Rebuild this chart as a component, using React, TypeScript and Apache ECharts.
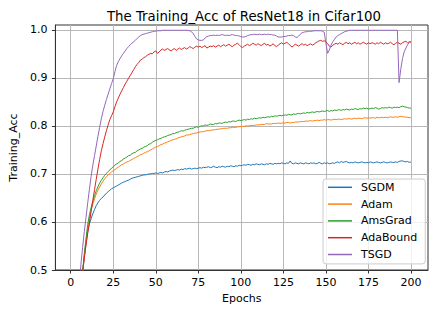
import React, { useEffect, useRef } from "react";
import * as echarts from "echarts";

const seriesNames = ["SGDM", "Adam", "AmsGrad", "AdaBound", "TSGD"];
const colors = ["#1f77b4", "#ff7f0e", "#2ca02c", "#d62728", "#9467bd"];
const xTicks = [0, 25, 50, 75, 100, 125, 150, 175, 200];
const yTicks = [0.5, 0.6, 0.7, 0.8, 0.9, 1.0];
const epochs = Array.from({ length: 200 }, (_, i) => i + 1);

const sgdm = [
  0.060, 0.180, 0.280, 0.350, 0.410, 0.460, 0.495, 0.527, 0.555, 0.579,
  0.596, 0.607, 0.617, 0.626, 0.634, 0.640, 0.645, 0.649, 0.652, 0.656,
  0.660, 0.663, 0.666, 0.669, 0.671, 0.673, 0.675, 0.677, 0.679, 0.681,
  0.683, 0.684, 0.686, 0.687, 0.689, 0.691, 0.692, 0.693, 0.694, 0.695,
  0.696, 0.697, 0.698, 0.698, 0.699, 0.700, 0.700, 0.701, 0.701, 0.702,
  0.701, 0.702, 0.703, 0.702, 0.704, 0.705, 0.704, 0.706, 0.707, 0.708,
  0.707, 0.708, 0.709, 0.708, 0.710, 0.709, 0.711, 0.710, 0.711, 0.712,
  0.710, 0.711, 0.712, 0.711, 0.712, 0.713, 0.712, 0.714, 0.713, 0.714,
  0.715, 0.713, 0.714, 0.716, 0.714, 0.713, 0.715, 0.714, 0.716, 0.715,
  0.714, 0.716, 0.715, 0.717, 0.716, 0.715, 0.717, 0.716, 0.718, 0.717,
  0.718, 0.719, 0.718, 0.720, 0.719, 0.718, 0.720, 0.719, 0.721, 0.720,
  0.719, 0.721, 0.720, 0.719, 0.721, 0.720, 0.722, 0.721, 0.720, 0.722,
  0.721, 0.722, 0.721, 0.723, 0.722, 0.721, 0.723, 0.722, 0.727, 0.722,
  0.721, 0.723, 0.722, 0.721, 0.723, 0.722, 0.721, 0.723, 0.722, 0.721,
  0.723, 0.722, 0.723, 0.721, 0.722, 0.724, 0.722, 0.721, 0.723, 0.722,
  0.723, 0.721, 0.722, 0.723, 0.722, 0.724, 0.725, 0.723, 0.726, 0.724,
  0.725, 0.726, 0.724, 0.723, 0.724, 0.723, 0.725, 0.724, 0.723, 0.724,
  0.725, 0.724, 0.723, 0.724, 0.723, 0.725, 0.724, 0.723, 0.724, 0.725,
  0.724, 0.723, 0.724, 0.725, 0.724, 0.723, 0.724, 0.725, 0.724, 0.724,
  0.725, 0.724, 0.726, 0.727, 0.727, 0.726, 0.725, 0.726, 0.724, 0.725,
];

const adam = [
  0.070, 0.190, 0.290, 0.360, 0.420, 0.465, 0.495, 0.530, 0.560, 0.588,
  0.608, 0.624, 0.637, 0.648, 0.658, 0.666, 0.673, 0.679, 0.685, 0.690,
  0.694, 0.698, 0.701, 0.704, 0.707, 0.709, 0.712, 0.714, 0.717, 0.719,
  0.721, 0.723, 0.725, 0.726, 0.728, 0.730, 0.732, 0.734, 0.736, 0.738,
  0.740, 0.741, 0.743, 0.745, 0.746, 0.748, 0.750, 0.752, 0.754, 0.756,
  0.757, 0.759, 0.761, 0.762, 0.764, 0.765, 0.767, 0.768, 0.770, 0.771,
  0.772, 0.773, 0.775, 0.776, 0.777, 0.778, 0.779, 0.781, 0.781, 0.782,
  0.783, 0.784, 0.785, 0.785, 0.787, 0.787, 0.788, 0.788, 0.789, 0.790,
  0.790, 0.791, 0.791, 0.792, 0.792, 0.793, 0.793, 0.794, 0.794, 0.795,
  0.795, 0.795, 0.796, 0.796, 0.797, 0.797, 0.797, 0.798, 0.798, 0.799,
  0.799, 0.799, 0.800, 0.800, 0.800, 0.801, 0.801, 0.801, 0.802, 0.802,
  0.802, 0.803, 0.803, 0.803, 0.805, 0.804, 0.804, 0.804, 0.805, 0.805,
  0.805, 0.806, 0.805, 0.806, 0.806, 0.806, 0.807, 0.807, 0.806, 0.807,
  0.807, 0.808, 0.808, 0.808, 0.809, 0.809, 0.809, 0.810, 0.810, 0.810,
  0.811, 0.810, 0.811, 0.811, 0.812, 0.811, 0.812, 0.812, 0.813, 0.812,
  0.813, 0.813, 0.812, 0.813, 0.814, 0.813, 0.814, 0.814, 0.813, 0.814,
  0.815, 0.814, 0.815, 0.815, 0.814, 0.815, 0.816, 0.815, 0.816, 0.816,
  0.815, 0.816, 0.817, 0.816, 0.817, 0.816, 0.817, 0.817, 0.816, 0.818,
  0.817, 0.817, 0.818, 0.817, 0.818, 0.817, 0.818, 0.819, 0.818, 0.818,
  0.819, 0.818, 0.819, 0.820, 0.819, 0.819, 0.818, 0.818, 0.817, 0.817,
];

const amsgrad = [
  0.080, 0.200, 0.300, 0.370, 0.430, 0.470, 0.497, 0.535, 0.565, 0.595,
  0.615, 0.630, 0.643, 0.655, 0.665, 0.673, 0.681, 0.687, 0.692, 0.697,
  0.701, 0.705, 0.708, 0.712, 0.715, 0.718, 0.721, 0.723, 0.726, 0.728,
  0.731, 0.733, 0.735, 0.738, 0.739, 0.742, 0.744, 0.745, 0.748, 0.750,
  0.752, 0.753, 0.756, 0.757, 0.759, 0.762, 0.763, 0.766, 0.768, 0.770,
  0.771, 0.773, 0.774, 0.776, 0.777, 0.778, 0.780, 0.781, 0.782, 0.784,
  0.784, 0.786, 0.787, 0.788, 0.790, 0.789, 0.791, 0.792, 0.793, 0.794,
  0.795, 0.795, 0.797, 0.798, 0.797, 0.799, 0.800, 0.800, 0.802, 0.801,
  0.802, 0.804, 0.803, 0.803, 0.805, 0.804, 0.806, 0.806, 0.805, 0.807,
  0.808, 0.807, 0.809, 0.808, 0.810, 0.810, 0.809, 0.811, 0.812, 0.811,
  0.812, 0.813, 0.812, 0.814, 0.813, 0.815, 0.814, 0.816, 0.815, 0.816,
  0.817, 0.816, 0.818, 0.817, 0.818, 0.819, 0.818, 0.820, 0.819, 0.821,
  0.820, 0.821, 0.822, 0.821, 0.822, 0.823, 0.822, 0.824, 0.823, 0.823,
  0.825, 0.824, 0.825, 0.826, 0.825, 0.826, 0.827, 0.826, 0.828, 0.827,
  0.828, 0.829, 0.828, 0.829, 0.830, 0.829, 0.830, 0.831, 0.830, 0.831,
  0.832, 0.830, 0.832, 0.831, 0.833, 0.832, 0.833, 0.834, 0.832, 0.834,
  0.833, 0.835, 0.834, 0.833, 0.835, 0.834, 0.836, 0.835, 0.834, 0.836,
  0.835, 0.837, 0.836, 0.837, 0.835, 0.836, 0.837, 0.836, 0.838, 0.837,
  0.835, 0.836, 0.838, 0.837, 0.838, 0.837, 0.839, 0.838, 0.837, 0.839,
  0.838, 0.839, 0.838, 0.840, 0.841, 0.840, 0.839, 0.838, 0.837, 0.837,
];

const adabound = [
  0.080, 0.200, 0.290, 0.360, 0.420, 0.465, 0.497, 0.525, 0.552, 0.577,
  0.598, 0.622, 0.645, 0.667, 0.689, 0.710, 0.730, 0.748, 0.763, 0.777,
  0.790, 0.802, 0.813, 0.821, 0.829, 0.840, 0.850, 0.858, 0.866, 0.873,
  0.880, 0.887, 0.893, 0.899, 0.905, 0.911, 0.917, 0.923, 0.928, 0.932,
  0.937, 0.939, 0.942, 0.944, 0.947, 0.949, 0.951, 0.950, 0.954, 0.956,
  0.951, 0.954, 0.958, 0.960, 0.957, 0.959, 0.961, 0.958, 0.956, 0.959,
  0.961, 0.957, 0.960, 0.962, 0.959, 0.961, 0.963, 0.960, 0.962, 0.965,
  0.963, 0.961, 0.964, 0.966, 0.964, 0.966, 0.963, 0.965, 0.967, 0.962,
  0.964, 0.966, 0.965, 0.967, 0.964, 0.966, 0.968, 0.965, 0.967, 0.969,
  0.966, 0.968, 0.970, 0.967, 0.965, 0.968, 0.970, 0.972, 0.969, 0.965,
  0.963, 0.966, 0.968, 0.970, 0.967, 0.969, 0.972, 0.970, 0.968, 0.971,
  0.969, 0.967, 0.970, 0.972, 0.968, 0.970, 0.966, 0.968, 0.971, 0.967,
  0.965, 0.968, 0.971, 0.973, 0.970, 0.972, 0.974, 0.971, 0.968, 0.964,
  0.967, 0.970, 0.968, 0.966, 0.969, 0.971, 0.968, 0.970, 0.967, 0.969,
  0.971, 0.968, 0.970, 0.973, 0.975, 0.977, 0.978, 0.976, 0.977, 0.975,
  0.971, 0.966, 0.964, 0.968, 0.970, 0.972, 0.970, 0.973, 0.971, 0.969,
  0.972, 0.974, 0.971, 0.973, 0.970, 0.972, 0.974, 0.971, 0.973, 0.970,
  0.972, 0.974, 0.972, 0.970, 0.973, 0.971, 0.973, 0.972, 0.970, 0.973,
  0.971, 0.974, 0.972, 0.970, 0.973, 0.971, 0.972, 0.974, 0.971, 0.969,
  0.972, 0.974, 0.972, 0.970, 0.973, 0.975, 0.976, 0.973, 0.975, 0.974,
];

const tsgd = [
  0.120, 0.250, 0.340, 0.410, 0.465, 0.512, 0.547, 0.580, 0.610, 0.640,
  0.668, 0.695, 0.718, 0.738, 0.758, 0.778, 0.797, 0.815, 0.830, 0.843,
  0.855, 0.866, 0.877, 0.888, 0.898, 0.913, 0.926, 0.934, 0.940, 0.946,
  0.951, 0.956, 0.961, 0.965, 0.969, 0.972, 0.975, 0.978, 0.982, 0.985,
  0.988, 0.990, 0.991, 0.992, 0.993, 0.994, 0.995, 0.996, 0.997, 0.997,
  0.998, 0.998, 0.998, 0.999, 0.999, 0.999, 0.999, 0.999, 0.999, 0.999,
  0.999, 0.999, 0.999, 0.999, 0.999, 0.999, 0.999, 0.999, 0.999, 0.998,
  0.996, 0.992, 0.986, 0.981, 0.979, 0.978, 0.978, 0.979, 0.983, 0.986,
  0.987, 0.988, 0.988, 0.989, 0.988, 0.989, 0.988, 0.989, 0.990, 0.989,
  0.988, 0.989, 0.988, 0.989, 0.990, 0.989, 0.988, 0.988, 0.987, 0.986,
  0.985, 0.985, 0.986, 0.988, 0.989, 0.990, 0.990, 0.991, 0.990, 0.990,
  0.991, 0.990, 0.990, 0.991, 0.990, 0.991, 0.990, 0.990, 0.989, 0.989,
  0.987, 0.985, 0.985, 0.985, 0.986, 0.986, 0.987, 0.988, 0.988, 0.989,
  0.988, 0.985, 0.984, 0.987, 0.991, 0.994, 0.995, 0.996, 0.996, 0.997,
  0.997, 0.997, 0.998, 0.998, 0.998, 0.998, 0.998, 0.997, 0.995, 0.972,
  0.951, 0.958, 0.968, 0.975, 0.980, 0.985, 0.988, 0.990, 0.992, 0.994,
  0.996, 0.997, 0.998, 0.999, 0.999, 0.999, 0.999, 0.999, 0.999, 0.999,
  0.999, 0.999, 0.999, 0.999, 0.999, 0.999, 0.999, 0.999, 0.999, 0.999,
  0.999, 0.999, 0.999, 0.999, 0.999, 0.999, 0.999, 0.999, 0.999, 0.999,
  0.999, 0.999, 0.890, 0.918, 0.940, 0.954, 0.962, 0.969, 0.974, 0.976,
];

const allValues = [sgdm, adam, amsgrad, adabound, tsgd];
const FONT = "DejaVu Sans";

export default function App() {
  const ref = useRef<HTMLDivElement>(null);
  useEffect(() => {
    if (!ref.current) return;
    const chart = echarts.init(ref.current, undefined, { renderer: "svg" });
    chart.setOption({
      animation: false,
      backgroundColor: "#ffffff",
      title: {
        text: "The Training_Acc of ResNet18 in Cifar100",
        left: 239,
        top: 5,
        textAlign: "center",
        textStyle: { fontFamily: FONT, fontSize: 13.3, fontWeight: "normal", color: "#000" },
      },
      grid: {
        left: 50,
        top: 25,
        right: 8,
        bottom: 43,
        show: true,
        borderColor: "#333",
        borderWidth: 1,
        backgroundColor: "transparent",
      },
      legend: {
        orient: "vertical",
        left: 323,
        top: 179,
        data: seriesNames,
        icon: "rect",
        itemWidth: 24,
        itemHeight: 1.5,
        itemGap: 4.8,
        padding: [2.3, 8, 3.4, 5],
        backgroundColor: "rgba(255,255,255,0.8)",
        borderColor: "#cccccc",
        borderWidth: 1,
        borderRadius: 3,
        textStyle: { fontFamily: FONT, fontSize: 11, color: "#000", lineHeight: 12, padding: [0, 0, 0, 4] },
      },
      xAxis: {
        type: "value",
        min: -9,
        max: 210,
        name: "Epochs",
        nameLocation: "middle",
        nameGap: 21,
        nameTextStyle: { fontFamily: FONT, fontSize: 11, color: "#000", verticalAlign: "top" },
        axisLine: { show: true, onZero: false, lineStyle: { color: "#333", width: 1 } },
        axisTick: { show: true, length: 3.5, lineStyle: { color: "#333" }, customValues: xTicks },
        axisLabel: {
          fontFamily: FONT,
          fontSize: 11,
          color: "#000",
          margin: 7,
          customValues: xTicks,
          formatter: (v: number) => String(v),
        },
        splitLine: { show: true, lineStyle: { color: "#b8b8b8", width: 1 } },
      },
      yAxis: {
        type: "value",
        min: 0.5,
        max: 1.01,
        name: "Training_Acc",
        nameLocation: "middle",
        nameGap: 30,
        nameRotate: 90,
        nameTextStyle: { fontFamily: FONT, fontSize: 11, color: "#000" },
        axisLine: { show: true, onZero: false, lineStyle: { color: "#333", width: 1 } },
        axisTick: { show: true, length: 3.5, lineStyle: { color: "#333" }, customValues: yTicks },
        axisLabel: {
          fontFamily: FONT,
          fontSize: 11,
          color: "#000",
          margin: 8,
          customValues: yTicks,
          formatter: (v: number) => v.toFixed(1),
        },
        splitLine: { show: true, lineStyle: { color: "#b8b8b8", width: 1 } },
      },
      series: seriesNames.map((name, i) => ({
        name,
        type: "line",
        data: epochs.map((e, j) => [e, allValues[i][j]]),
        showSymbol: false,
        symbol: "none",
        clip: true,
        color: colors[i],
        lineStyle: { width: 1, color: colors[i] },
      })),
    });
    return () => chart.dispose();
  }, []);
  return (
    <div
      ref={ref}
      style={{ position: "absolute", left: 0, top: 0, width: 436, height: 313 }}
    />
  );
}
